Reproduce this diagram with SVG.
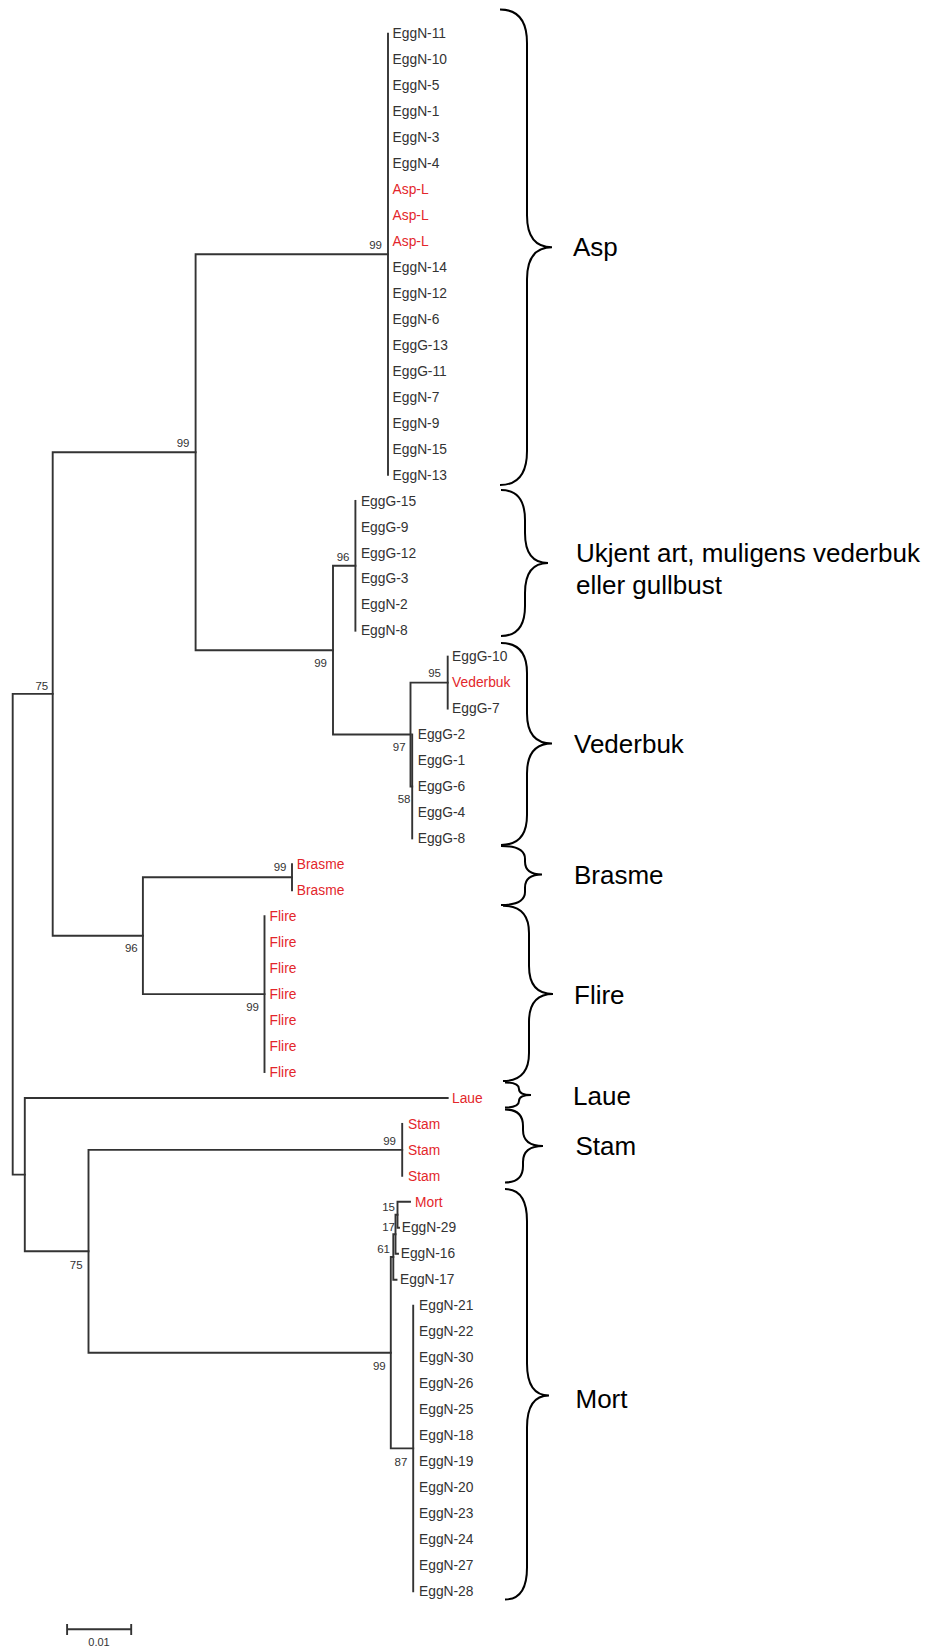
<svg xmlns="http://www.w3.org/2000/svg" width="946" height="1647" viewBox="0 0 946 1647">
<style>
.br{fill:none;stroke:#333;stroke-width:1.9;stroke-linecap:square}
.lf{font-family:"Liberation Sans",Arial,sans-serif;font-size:13.8px;fill:#333}
.rd{fill:#e3262b}
.bs{font-family:"Liberation Sans",Arial,sans-serif;font-size:11.5px;fill:#333;text-anchor:end}
.brace{fill:none;stroke:#000;stroke-width:2}
.cl{font-family:"Liberation Sans",Arial,sans-serif;font-size:26px;fill:#000}
</style>
<rect width="946" height="1647" fill="#fff"/>
<g id="connectors">
<path class="br" d="M12.7,693.9V1174.6M12.7,693.9H52.7M12.7,1174.6H24.8"/>
<path class="br" d="M52.7,452.2V935.7M52.7,452.2H195.6M52.7,935.7H142.9"/>
<path class="br" d="M195.6,254.3V650.2M195.6,254.3H388M195.6,650.2H333"/>
<path class="br" d="M388,33.6V474.9"/>
<path class="br" d="M333,565.8V734.5M333,565.8H355.4M333,734.5H410.5"/>
<path class="br" d="M355.4,500.9V630.7"/>
<path class="br" d="M410.5,682.6V786.5M410.5,682.6H447.7M410.5,786.5H412.2"/>
<path class="br" d="M447.7,656.6V708.6"/>
<path class="br" d="M412.2,734.5V838.4"/>
<path class="br" d="M142.9,877.3V994.1M142.9,877.3H292M142.9,994.1H264.5"/>
<path class="br" d="M292,864.3V890.3"/>
<path class="br" d="M264.5,916.2V1072"/>
<path class="br" d="M24.8,1098V1251.3M24.8,1098H447.7M24.8,1251.3H88.5"/>
<path class="br" d="M88.5,1149.9V1352.7M88.5,1149.9H402.2M88.5,1352.7H390.8"/>
<path class="br" d="M402.2,1123.9V1175.8"/>
<path class="br" d="M390.8,1257V1448.4M390.8,1257H393.3M390.8,1448.4H413.2"/>
<path class="br" d="M393.3,1234.3V1279.7M393.3,1234.3H395.5M393.3,1279.7H396.5"/>
<path class="br" d="M395.5,1214.8V1253.7M395.5,1214.8H397.5M395.5,1253.7H398"/>
<path class="br" d="M397.5,1201.8V1227.8M397.5,1201.8H410M397.5,1227.8H399"/>
<path class="br" d="M413.2,1305.6V1591.2"/>
<path class="br" d="M67.1,1629.3H131.2M67.1,1625V1634M131.2,1625V1634"/>
</g>
<g id="bootstrap">
<text class="bs" x="382" y="249">99</text>
<text class="bs" x="189.5" y="447">99</text>
<text class="bs" x="349.5" y="561">96</text>
<text class="bs" x="327" y="666.7">99</text>
<text class="bs" x="441" y="677">95</text>
<text class="bs" x="405.6" y="750.7">97</text>
<text class="bs" x="410.5" y="803">58</text>
<text class="bs" x="48.2" y="689.7">75</text>
<text class="bs" x="286.5" y="871">99</text>
<text class="bs" x="137.7" y="952">96</text>
<text class="bs" x="259" y="1010.7">99</text>
<text class="bs" x="396" y="1145">99</text>
<text class="bs" x="82.6" y="1269">75</text>
<text class="bs" x="395" y="1210.5">15</text>
<text class="bs" x="395" y="1230.5">17</text>
<text class="bs" x="390" y="1253">61</text>
<text class="bs" x="385.7" y="1369.7">99</text>
<text class="bs" x="407.4" y="1465.7">87</text>
</g>
<g id="leaves-asp">
<g id="leaf-0"><text class="lf" x="392.6" y="38.3">EggN-11</text></g>
<g id="leaf-1"><text class="lf" x="392.6" y="64.26">EggN-10</text></g>
<g id="leaf-2"><text class="lf" x="392.6" y="90.22">EggN-5</text></g>
<g id="leaf-3"><text class="lf" x="392.6" y="116.18">EggN-1</text></g>
<g id="leaf-4"><text class="lf" x="392.6" y="142.14">EggN-3</text></g>
<g id="leaf-5"><text class="lf" x="392.6" y="168.1">EggN-4</text></g>
<g id="leaf-6"><text class="lf rd" x="392.6" y="194.06">Asp-L</text></g>
<g id="leaf-7"><text class="lf rd" x="392.6" y="220.02">Asp-L</text></g>
<g id="leaf-8"><text class="lf rd" x="392.6" y="245.98">Asp-L</text></g>
<g id="leaf-9"><text class="lf" x="392.6" y="271.94">EggN-14</text></g>
<g id="leaf-10"><text class="lf" x="392.6" y="297.9">EggN-12</text></g>
<g id="leaf-11"><text class="lf" x="392.6" y="323.86">EggN-6</text></g>
<g id="leaf-12"><text class="lf" x="392.6" y="349.82">EggG-13</text></g>
<g id="leaf-13"><text class="lf" x="392.6" y="375.78">EggG-11</text></g>
<g id="leaf-14"><text class="lf" x="392.6" y="401.74">EggN-7</text></g>
<g id="leaf-15"><text class="lf" x="392.6" y="427.7">EggN-9</text></g>
<g id="leaf-16"><text class="lf" x="392.6" y="453.66">EggN-15</text></g>
<g id="leaf-17"><text class="lf" x="392.6" y="479.62">EggN-13</text></g>
</g>
<g id="leaves-ukjent">
<g id="leaf-18"><text class="lf" x="360.9" y="505.58">EggG-15</text></g>
<g id="leaf-19"><text class="lf" x="360.9" y="531.54">EggG-9</text></g>
<g id="leaf-20"><text class="lf" x="360.9" y="557.5">EggG-12</text></g>
<g id="leaf-21"><text class="lf" x="360.9" y="583.46">EggG-3</text></g>
<g id="leaf-22"><text class="lf" x="360.9" y="609.42">EggN-2</text></g>
<g id="leaf-23"><text class="lf" x="360.9" y="635.38">EggN-8</text></g>
</g>
<g id="leaves-vederbuk">
<g id="leaf-24"><text class="lf" x="452.1" y="661.34">EggG-10</text></g>
<g id="leaf-25"><text class="lf rd" x="452.1" y="687.3">Vederbuk</text></g>
<g id="leaf-26"><text class="lf" x="452.1" y="713.26">EggG-7</text></g>
<g id="leaf-27"><text class="lf" x="417.7" y="739.22">EggG-2</text></g>
<g id="leaf-28"><text class="lf" x="417.7" y="765.18">EggG-1</text></g>
<g id="leaf-29"><text class="lf" x="417.7" y="791.14">EggG-6</text></g>
<g id="leaf-30"><text class="lf" x="417.7" y="817.1">EggG-4</text></g>
<g id="leaf-31"><text class="lf" x="417.7" y="843.06">EggG-8</text></g>
</g>
<g id="leaves-brasme-flire">
<g id="leaf-32"><text class="lf rd" x="296.8" y="869.02">Brasme</text></g>
<g id="leaf-33"><text class="lf rd" x="296.8" y="894.98">Brasme</text></g>
<g id="leaf-34"><text class="lf rd" x="269.6" y="920.94">Flire</text></g>
<g id="leaf-35"><text class="lf rd" x="269.6" y="946.9">Flire</text></g>
<g id="leaf-36"><text class="lf rd" x="269.6" y="972.86">Flire</text></g>
<g id="leaf-37"><text class="lf rd" x="269.6" y="998.82">Flire</text></g>
<g id="leaf-38"><text class="lf rd" x="269.6" y="1024.78">Flire</text></g>
<g id="leaf-39"><text class="lf rd" x="269.6" y="1050.74">Flire</text></g>
<g id="leaf-40"><text class="lf rd" x="269.6" y="1076.7">Flire</text></g>
</g>
<g id="leaves-laue-stam">
<g id="leaf-41"><text class="lf rd" x="452" y="1102.66">Laue</text></g>
<g id="leaf-42"><text class="lf rd" x="408" y="1128.62">Stam</text></g>
<g id="leaf-43"><text class="lf rd" x="408" y="1154.58">Stam</text></g>
<g id="leaf-44"><text class="lf rd" x="408" y="1180.54">Stam</text></g>
</g>
<g id="leaves-mort">
<g id="leaf-45"><text class="lf rd" x="415" y="1206.5">Mort</text></g>
<g id="leaf-46"><text class="lf" x="401.7" y="1232.46">EggN-29</text></g>
<g id="leaf-47"><text class="lf" x="400.7" y="1258.42">EggN-16</text></g>
<g id="leaf-48"><text class="lf" x="400" y="1284.38">EggN-17</text></g>
<g id="leaf-49"><text class="lf" x="419" y="1310.34">EggN-21</text></g>
<g id="leaf-50"><text class="lf" x="419" y="1336.3">EggN-22</text></g>
<g id="leaf-51"><text class="lf" x="419" y="1362.26">EggN-30</text></g>
<g id="leaf-52"><text class="lf" x="419" y="1388.22">EggN-26</text></g>
<g id="leaf-53"><text class="lf" x="419" y="1414.18">EggN-25</text></g>
<g id="leaf-54"><text class="lf" x="419" y="1440.14">EggN-18</text></g>
<g id="leaf-55"><text class="lf" x="419" y="1466.1">EggN-19</text></g>
<g id="leaf-56"><text class="lf" x="419" y="1492.06">EggN-20</text></g>
<g id="leaf-57"><text class="lf" x="419" y="1518.02">EggN-23</text></g>
<g id="leaf-58"><text class="lf" x="419" y="1543.98">EggN-24</text></g>
<g id="leaf-59"><text class="lf" x="419" y="1569.94">EggN-27</text></g>
<g id="leaf-60"><text class="lf" x="419" y="1595.9">EggN-28</text></g>
</g>
<g id="clade-asp">
<path class="brace" d="M500,9.5Q527,9.5 527,43V215.3Q527,247.3 552,247.3Q527,247.3 527,279.3V451Q527,485 500,485"/>
<text class="cl" x="573" y="256">Asp</text>
</g>
<g id="clade-ukjent">
<path class="brace" d="M501,490Q525,490 525,520V533Q525,563 548,563Q525,563 525,593V606Q525,636 501,636"/>
<text class="cl" x="576" y="562">Ukjent art, muligens vederbuk</text>
<text class="cl" x="576" y="593.5">eller gullbust</text>
</g>
<g id="clade-vederbuk">
<path class="brace" d="M501,643Q527,643 527,673V713.5Q527,743.5 552,743.5Q527,743.5 527,773.5V815Q527,845 501,845"/>
<text class="cl" x="574" y="752.5">Vederbuk</text>
</g>
<g id="clade-brasme">
<path class="brace" d="M501,846Q525,846 525,859V861.5Q525,874.5 542,874.5Q525,874.5 525,887.5V892Q525,905 501,905"/>
<text class="cl" x="574" y="884">Brasme</text>
</g>
<g id="clade-flire">
<path class="brace" d="M503,905.7Q529,905.7 529,933V966Q529,994 553,994Q529,994 529,1022V1053Q529,1081 503,1081"/>
<text class="cl" x="574" y="1003.5">Flire</text>
</g>
<g id="clade-laue">
<path class="brace" d="M505,1082.5Q519,1082.5 519,1089V1089Q519,1095 531,1095Q519,1095 519,1101V1101Q519,1107.5 505,1107.5"/>
<text class="cl" x="573" y="1105">Laue</text>
</g>
<g id="clade-stam">
<path class="brace" d="M505,1109.5Q523,1109.5 523,1126V1130Q523,1146 543,1146Q523,1146 523,1162V1166Q523,1182.5 505,1182.5"/>
<text class="cl" x="575.5" y="1155">Stam</text>
</g>
<g id="clade-mort">
<path class="brace" d="M505,1189Q527,1189 527,1221V1363.5Q527,1395.5 549,1395.5Q527,1395.5 527,1427.5V1567.5Q527,1599.5 505,1599.5"/>
<text class="cl" x="575.5" y="1408">Mort</text>
</g>
<g id="scale">
<text x="99" y="1645.5" font-family="Liberation Sans, Arial, sans-serif" font-size="11" fill="#333" text-anchor="middle">0.01</text>
</g>
</svg>
